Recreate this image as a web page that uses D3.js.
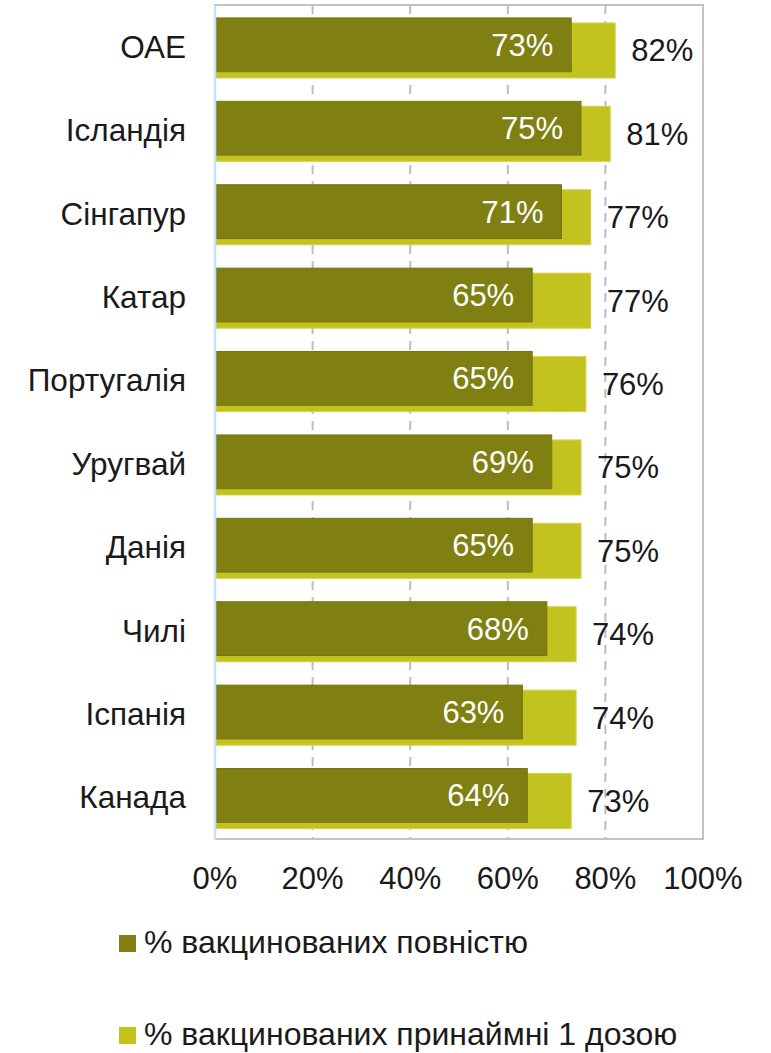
<!DOCTYPE html>
<html><head><meta charset="utf-8">
<script src="https://cdn.jsdelivr.net/npm/d3@7"></script>
<style>body{margin:0;background:#fff}svg{display:block}text{font-family:"Liberation Sans",Arial,sans-serif}</style>
</head><body><svg id="c" width="771" height="1053"></svg>
<script>
const categories = ["ОАЕ","Ісландія","Сінгапур","Катар","Португалія","Уругвай","Данія","Чилі","Іспанія","Канада"];
const fullyVaccinated = [73,75,71,65,65,69,65,68,63,64];
const atLeastOneDose = [82,81,77,77,76,75,75,74,74,73];
const tickValues = [0,20,40,60,80,100];
const seriesNames = ["% вакцинованих повністю","% вакцинованих принаймні 1 дозою"];
const colors = ["#808012","#c3c31f"];

const svg = d3.select("#c");
const L=215,R=703,T=5,B=839;
const x = d3.scaleLinear().domain([0,100]).range([L,R]);
const y = d3.scaleBand().domain(categories).range([T,B]);
const bw = y.bandwidth();

// gridlines
svg.append("g").selectAll("line").data(tickValues.filter(d=>d>0&&d<100)).join("line")
  .attr("x1",d=>x(d)).attr("x2",d=>x(d)).attr("y1",T).attr("y2",B)
  .attr("stroke","#bdbdbd").attr("stroke-width",2).attr("stroke-dasharray","9,7");
// frame
svg.append("rect").attr("x",L).attr("y",T).attr("width",R-L).attr("height",B-T)
  .attr("fill","none").attr("stroke","#c3c3c3").attr("stroke-width",2);

// light bars (at least 1 dose)
svg.append("g").selectAll("rect").data(categories).join("rect")
  .attr("x",x(0)).attr("y",c=>y(c)+bw*0.215).attr("height",bw*0.66)
  .attr("width",(c,i)=>x(atLeastOneDose[i])-x(0))
  .attr("fill",colors[1]).attr("stroke","#d2d24a").attr("stroke-width",1);
// dark bars (fully)
svg.append("g").selectAll("rect").data(categories).join("rect")
  .attr("x",x(0)).attr("y",c=>y(c)+bw*0.155).attr("height",bw*0.645)
  .attr("width",(c,i)=>x(fullyVaccinated[i])-x(0))
  .attr("fill",colors[0]).attr("stroke","#76760f").attr("stroke-width",1);

// left axis line
svg.append("line").attr("x1",L).attr("x2",L).attr("y1",T).attr("y2",B+1)
  .attr("stroke","#c6e1f5").attr("stroke-width",2.5);

// inner labels
svg.append("g").selectAll("text").data(categories).join("text")
  .attr("x",(c,i)=>x(fullyVaccinated[i])-18)
  .attr("y",c=>y(c)+bw*(0.155+0.3225)+11)
  .attr("text-anchor","end").attr("fill","#fff").attr("font-size",31)
  .text((c,i)=>fullyVaccinated[i]+"%");
// outer labels
svg.append("g").selectAll("text").data(categories).join("text")
  .attr("x",(c,i)=>x(atLeastOneDose[i])+16)
  .attr("y",c=>y(c)+bw*(0.215+0.33)+11)
  .attr("text-anchor","start").attr("fill","#1a1a1a").attr("font-size",31)
  .text((c,i)=>atLeastOneDose[i]+"%");

// category labels
svg.append("g").selectAll("text").data(categories).join("text")
  .attr("x",186).attr("y",c=>y(c)+bw*0.5+11)
  .attr("text-anchor","end").attr("fill","#1a1a1a").attr("font-size",31.5)
  .text(c=>c);

// x tick labels
svg.append("g").selectAll("text").data(tickValues).join("text")
  .attr("x",d=>x(d)).attr("y",889)
  .attr("text-anchor","middle").attr("fill","#1a1a1a").attr("font-size",31)
  .text(d=>d+"%");

// legend
const lg = svg.append("g").selectAll("g").data(seriesNames).join("g")
  .attr("transform",(d,i)=>`translate(119,${935+i*92})`);
lg.append("rect").attr("width",17).attr("height",17).attr("fill",(d,i)=>colors[i]);
lg.append("text").attr("x",25).attr("y",18).attr("font-size",32).attr("fill","#1a1a1a").text(d=>d);
</script></body></html>
